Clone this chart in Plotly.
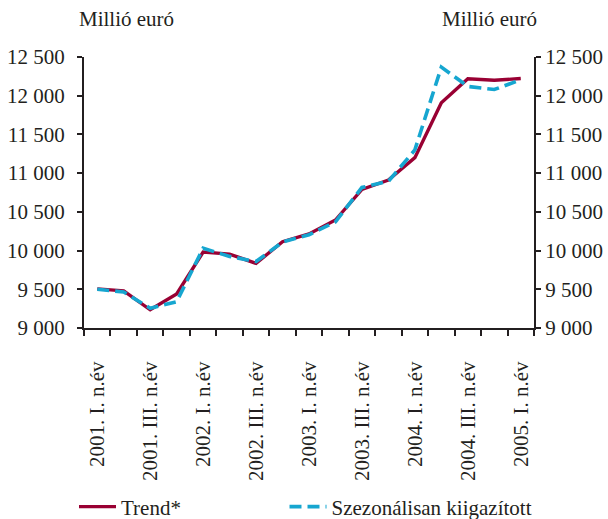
import plotly.graph_objects as go

quarters = [
    "2001. I. n.év", "2001. II. n.év", "2001. III. n.év", "2001. IV. n.év",
    "2002. I. n.év", "2002. II. n.év", "2002. III. n.év", "2002. IV. n.év",
    "2003. I. n.év", "2003. II. n.év", "2003. III. n.év", "2003. IV. n.év",
    "2004. I. n.év", "2004. II. n.év", "2004. III. n.év", "2004. IV. n.év",
    "2005. I. n.év",
]
trend = [9505, 9480, 9235, 9440, 9980, 9955, 9835, 10115, 10215, 10395,
         10790, 10910, 11200, 11910, 12220, 12200, 12222]
seasonal = [9500, 9465, 9255, 9340, 10030, 9925, 9858, 10110, 10205, 10370,
            10815, 10895, 11300, 12370, 12120, 12080, 12205]
shown_labels = ["2001. I. n.év", "2001. III. n.év", "2002. I. n.év", "2002. III. n.év",
                "2003. I. n.év", "2003. III. n.év", "2004. I. n.év", "2004. III. n.év",
                "2005. I. n.év"]
y_ticks = [9000, 9500, 10000, 10500, 11000, 11500, 12000, 12500]

FONT = "Liberation Serif"
AX = "#231f20"
FS = 21

L, R, T, B = 84, 74, 57, 191
W, H = 608, 519
pw, ph = W - L - R, H - T - B


def px_to_paper(xp, yp):
    return (xp - L) / pw, 1 - (yp - T) / ph


fig = go.Figure()
fig.add_trace(go.Scatter(x=quarters, y=trend, mode="lines", name="Trend*",
                         line=dict(color="#990033", width=3.4), yaxis="y", legend="legend"))
fig.add_trace(go.Scatter(x=quarters, y=seasonal, mode="lines", name="Szezonálisan kiigazított",
                         line=dict(color="#16a6d0", width=3.6, dash="12px,6px"), yaxis="y2",
                         legend="legend2"))

ticktext = [q if q in shown_labels else "" for q in quarters]

lg1 = px_to_paper(74, 507)
lg2 = px_to_paper(284.5, 507)

axis_common = dict(ticks="outside", ticklen=5, tickwidth=2, tickcolor=AX, showline=True,
                   linecolor=AX, linewidth=2, showgrid=False, zeroline=False,
                   tickfont=dict(size=FS))

fig.update_layout(
    width=W, height=H,
    margin=dict(l=L, r=R, t=T, b=B, autoexpand=False),
    paper_bgcolor="white", plot_bgcolor="white",
    font=dict(family=FONT, size=FS, color="#231f20"),
    separators=", ",
    showlegend=True,
    legend=dict(orientation="h", x=lg1[0], xanchor="left", y=lg1[1], yanchor="middle",
                font=dict(size=FS), itemwidth=37, bgcolor="rgba(0,0,0,0)"),
    legend2=dict(orientation="h", x=lg2[0], xanchor="left", y=lg2[1], yanchor="middle",
                 font=dict(size=FS), itemwidth=37, bgcolor="rgba(0,0,0,0)"),
    xaxis=dict(type="category", tickmode="array", tickvals=quarters, ticktext=ticktext,
               tickangle=-90, tickson="boundaries", range=[-0.5, 16.5],
               ticklabelstandoff=23, **{**axis_common, "ticklen": 6}),
    yaxis=dict(range=[9000, 12500], tickvals=y_ticks, tickformat=",d",
               ticklabelstandoff=8, **axis_common),
    yaxis2=dict(range=[9000, 12500], tickvals=y_ticks, tickformat=",d",
                overlaying="y", side="right", ticklabelstandoff=0, **axis_common),
)

t1 = px_to_paper(126, 19)
t2 = px_to_paper(489, 19)
for tx in (t1, t2):
    fig.add_annotation(text="Millió euró", x=tx[0], y=tx[1], xref="paper", yref="paper",
                       showarrow=False, xanchor="center", yanchor="middle",
                       font=dict(size=FS))

fig.write_html("out.html", config={"displayModeBar": False},
               post_script="document.body.style.margin='0px';document.body.style.overflow='hidden';")
